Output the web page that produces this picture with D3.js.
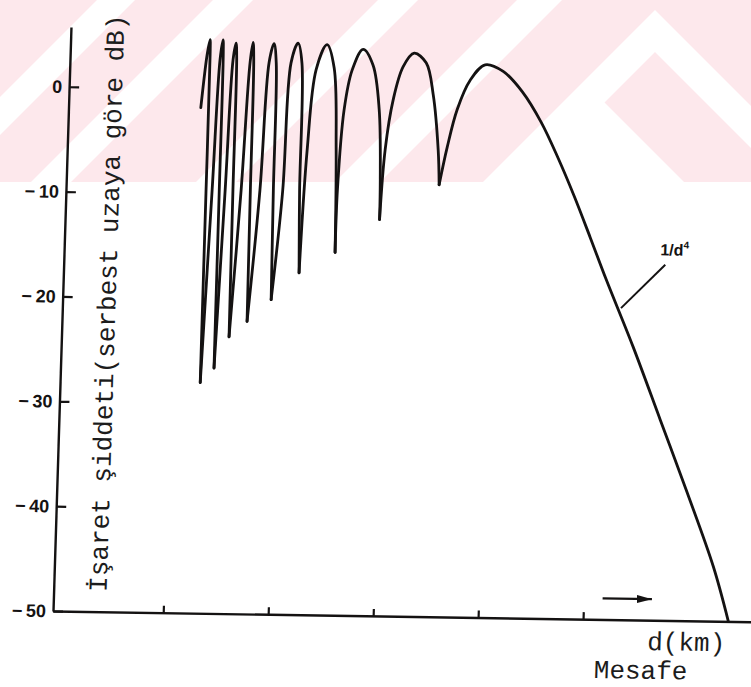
<!DOCTYPE html>
<html>
<head>
<meta charset="utf-8">
<script src="https://cdn.jsdelivr.net/npm/d3@7"></script>
<style>
  body { margin: 0; background: #fff; }
  svg { display: block; }
</style>
</head>
<body>
<div id="chart"></div>
<script>
// distance in arbitrary units (x ticks at 1..5), level in dB relative to free space
const xTicks = [1, 2, 3, 4, 5];
const yTicks = [0, -10, -20, -30, -40, -50];

// each lobe runs from one null to the next, as [distance, dB]
const lobe1 = [[1.21, -1.8], [1.254, 3.2], [1.278, 4.7], [1.283, 3.3], [1.284, -10], [1.285, -28.0]];
const lobe2 = [[1.285, -28.0], [1.342, -9.6], [1.379, 2.8], [1.402, 4.7], [1.408, 3.3], [1.41, -10], [1.412, -26.6]];
const lobe3 = [[1.412, -26.6], [1.466, -9.6], [1.503, 2.8], [1.527, 4.4], [1.537, 3.0], [1.54, -9.6], [1.546, -23.6]];
const lobe4 = [[1.546, -23.6], [1.618, -9.6], [1.666, 2.6], [1.689, 4.5], [1.70, 2.8], [1.706, -9.6], [1.713, -22.1]];
const lobe5 = [[1.713, -22.1], [1.797, -9.6], [1.847, 2.6], [1.889, 4.4], [1.915, 2.6], [1.925, -9.6], [1.936, -20.0]];
const lobe6 = [[1.936, -20.0], [2.014, -9.6], [2.056, 2.6], [2.118, 4.5], [2.16, 2.6], [2.175, -9.6], [2.194, -17.4]];
const lobe7 = [[2.194, -17.4], [2.235, -5.7], [2.297, 2.0], [2.394, 4.4], [2.468, 2.2], [2.511, -5.6], [2.531, -15.4]];
const lobe8 = [[2.531, -15.4], [2.535, -9.4], [2.575, -1.8], [2.64, 2.0], [2.739, 4.0], [2.838, 2.5], [2.909, -1.7], [2.94, -8.4], [2.945, -12.2]];
const lobe9 = [[2.945, -12.2], [2.978, -5.5], [3.039, -0.8], [3.125, 2.4], [3.226, 3.7], [3.343, 2.8], [3.419, -0.2], [3.483, -5.5], [3.502, -8.8]];
const lobe10 = [[3.502, -8.8], [3.568, -5.2], [3.652, -1.6], [3.767, 1.2], [3.905, 2.7], [4.079, 2.1], [4.266, 0.2],
  [4.456, -2.7], [4.628, -6.1], [4.792, -9.7], [4.956, -13.6], [5.121, -17.6], [5.398, -24.0], [5.677, -30.9],
  [5.955, -37.8], [6.225, -44.8], [6.384, -50.0]];
const lobes = [lobe1, lobe2, lobe3, lobe4, lobe5, lobe6, lobe7, lobe8, lobe9, lobe10];

const slopeLabel = [5.628, -15.2];
const slopeLeader = [[5.679, -16.1], [5.27, -20.3]];
const arrowLine = [[5.18, -48], [5.65, -48]];

// faint pink watermark of the scanned page (pixels)
const watermarkStripes = [[97, 135], [213, 253], [378, 418], [517, 562]];

const width = 751;
const height = 687;
const ink = "#141212";

const svg = d3
  .select("#chart")
  .append("svg")
  .attr("width", width)
  .attr("height", height);

// watermark
const wm = svg.append("g");
wm.append("rect").attr("x", 0).attr("y", 0).attr("width", width).attr("height", 182).attr("fill", "#fde8ec");
wm.selectAll(".stripe")
  .data(watermarkStripes)
  .enter()
  .append("polygon")
  .attr("fill", "#fff")
  .attr("points", (d) => `${d[0]},0 ${d[1]},0 ${d[1] - 182},182 ${d[0] - 182},182`);
wm.append("polygon").attr("fill", "#fff")
  .attr("points", "655,10 827,182 785,182 655,52 525,182 483,182");
wm.append("polygon").attr("fill", "#fff")
  .attr("points", "587,85 684,182 490,182");

const defs = svg.append("defs");
defs.append("marker")
  .attr("id", "head")
  .attr("viewBox", "0 0 15 8")
  .attr("refX", 15)
  .attr("refY", 4)
  .attr("markerWidth", 15)
  .attr("markerHeight", 8)
  .attr("markerUnits", "userSpaceOnUse")
  .attr("orient", "auto")
  .append("path")
  .attr("d", "M0,0L15,4L0,8Z")
  .attr("fill", ink);

const x = d3.scaleLinear().domain([-0.05, 6.6]).range([53, 751]);
const y = d3.scaleLinear().domain([-50, 5.7]).range([611, 27]);

// the scan is slightly skewed
const g = svg.append("g")
  .attr("transform", "translate(53,611) matrix(1,0.0153,-0.0308,1,0,0) translate(-53,-611)");

const xAxis = g.append("g")
  .attr("transform", `translate(0,${y(-50)})`)
  .call(d3.axisBottom(x).tickValues(xTicks).tickSizeInner(-7).tickSizeOuter(0).tickFormat(""));

const yAxis = g.append("g")
  .attr("transform", `translate(${x(-0.05)},0)`)
  .call(
    d3.axisLeft(y)
      .tickValues(yTicks)
      .tickSizeInner(-10)
      .tickSizeOuter(0)
      .tickPadding(7)
      .tickFormat((d) => (d === 0 ? "0" : "\u2212\u2009" + Math.abs(d)))
  );

[xAxis, yAxis].forEach((a) => {
  a.select(".domain").attr("stroke", ink).attr("stroke-width", 2.4);
  a.selectAll(".tick line").attr("stroke", ink).attr("stroke-width", 2.2);
});
yAxis.selectAll(".tick text")
  .attr("fill", ink)
  .attr("font-family", "'Liberation Sans', Arial, sans-serif")
  .attr("font-weight", "bold")
  .attr("font-size", 18);

const line = d3
  .line()
  .x((d) => x(d[0]))
  .y((d) => y(d[1]))
  .curve(d3.curveCatmullRom.alpha(0.5));

g.selectAll(".lobe")
  .data(lobes)
  .enter()
  .append("path")
  .attr("class", "lobe")
  .attr("d", line)
  .attr("fill", "none")
  .attr("stroke", ink)
  .attr("stroke-width", 2.8)
  .attr("stroke-linejoin", "round")
  .attr("stroke-linecap", "round");

// 1/d^4 annotation
g.append("path")
  .attr("d", d3.line().x((d) => x(d[0])).y((d) => y(d[1]))(slopeLeader))
  .attr("stroke", ink)
  .attr("stroke-width", 2);

const lbl = g.append("text")
  .attr("x", x(slopeLabel[0]))
  .attr("y", y(slopeLabel[1]))
  .attr("font-family", "'Liberation Sans', Arial, sans-serif")
  .attr("font-weight", "bold")
  .attr("font-size", 16)
  .attr("fill", ink)
  .text("1/d");
lbl.append("tspan").attr("dy", -7).attr("font-size", 10).text("4");

// arrow along the distance axis
g.append("path")
  .attr("d", d3.line().x((d) => x(d[0])).y((d) => y(d[1]))(arrowLine))
  .attr("stroke", ink)
  .attr("stroke-width", 2.2)
  .attr("marker-end", "url(#head)");

const mono = "'Liberation Mono', 'Courier New', monospace";

g.append("text")
  .attr("transform", `translate(${x(0.455)},${y(-48.1)}) rotate(-90)`)
  .attr("font-family", mono)
  .attr("font-size", 26)
  .attr("fill", "#1c1c1c")
  .text("İşaret şiddeti(serbest uzaya göre dB)");

g.append("text")
  .attr("x", x(5.618))
  .attr("y", y(-52.85))
  .attr("font-family", mono)
  .attr("font-size", 26)
  .attr("fill", "#1c1c1c")
  .text("d(km)");

g.append("text")
  .attr("x", x(5.117))
  .attr("y", y(-55.6))
  .attr("font-family", mono)
  .attr("font-size", 26)
  .attr("fill", "#1c1c1c")
  .text("Mesafe");
</script>
</body>
</html>
